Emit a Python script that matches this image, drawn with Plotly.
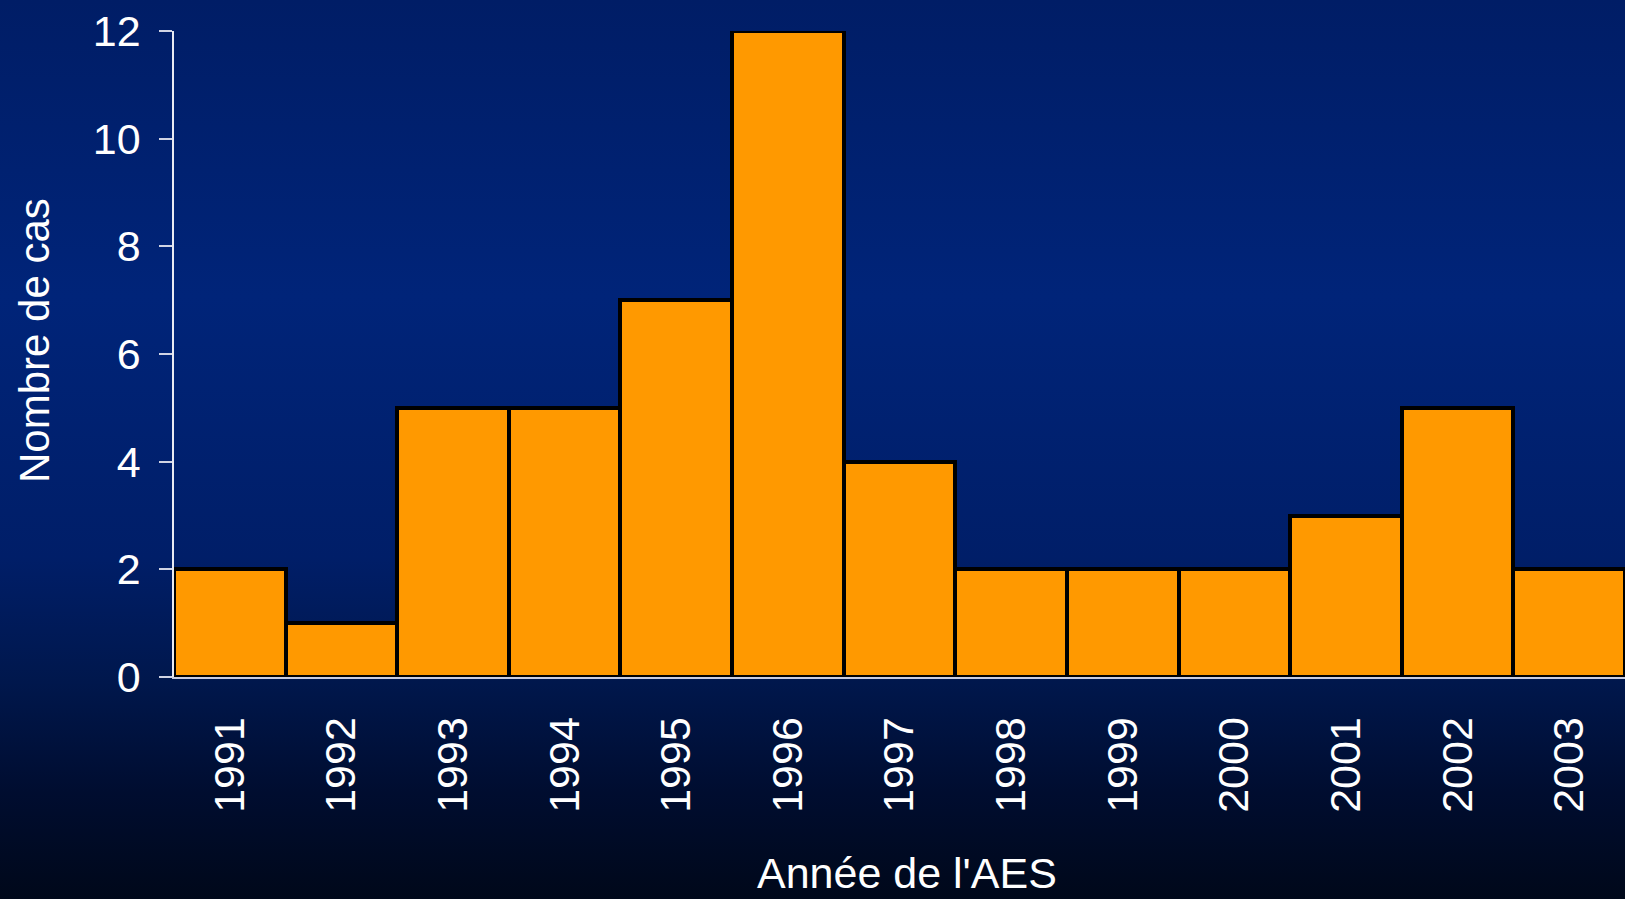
import base64
import plotly.graph_objects as go

years = ["1991", "1992", "1993", "1994", "1995", "1996", "1997",
         "1998", "1999", "2000", "2001", "2002", "2003"]
cases = [2, 1, 5, 5, 7, 12, 4, 2, 2, 2, 3, 5, 2]
y_ticks = [0, 2, 4, 6, 8, 10, 12]

W, H = 1625, 899
L, R, T, B = 174, 0, 31, 222
pw, ph = W - L - R, H - T - B

svg = (
    '<svg xmlns="http://www.w3.org/2000/svg" width="100" height="100" '
    'preserveAspectRatio="none" viewBox="0 0 100 100">'
    '<defs><linearGradient id="g" x1="0" y1="0" x2="0" y2="1">'
    '<stop offset="0" stop-color="#001d66"/>'
    '<stop offset="0.33" stop-color="#002479"/>'
    '<stop offset="0.62" stop-color="#001e68"/>'
    '<stop offset="0.76" stop-color="#00174c"/>'
    '<stop offset="0.88" stop-color="#000d30"/>'
    '<stop offset="1" stop-color="#00081a"/>'
    '</linearGradient></defs>'
    '<rect x="0" y="0" width="100" height="100" fill="url(#g)"/></svg>'
)
src = "data:image/svg+xml;base64," + base64.b64encode(svg.encode()).decode()

font = "Liberation Sans, Arial, sans-serif"
FS = 43

fig = go.Figure(go.Bar(
    x=years, y=cases,
    marker=dict(color="#ff9900", line=dict(color="#000000", width=4)),
))

fig.update_layout(
    width=W, height=H,
    margin=dict(l=L, r=R, t=T, b=B, autoexpand=False),
    paper_bgcolor="#001a5c",
    plot_bgcolor="rgba(0,0,0,0)",
    bargap=0,
    showlegend=False,
    font=dict(family=font, color="white", size=FS),
    images=[dict(
        source=src, xref="paper", yref="paper",
        x=-L / pw, y=1 + T / ph, sizex=W / pw, sizey=H / ph,
        xanchor="left", yanchor="top", sizing="stretch", layer="below",
    )],
    annotations=[
        dict(text="Année de l'AES", xref="paper", yref="paper",
             x=(907 - L) / pw, y=(677 - 873) / ph,
             xanchor="center", yanchor="middle", showarrow=False,
             font=dict(size=43, color="white", family=font)),
        dict(text="Nombre de cas", xref="paper", yref="paper",
             x=(34 - L) / pw, y=(677 - 341) / ph, textangle=-90,
             xanchor="center", yanchor="middle", showarrow=False,
             font=dict(size=42, color="white", family=font)),
    ],
)

fig.update_xaxes(
    type="category", range=[-0.5, len(years) - 0.5],
    showgrid=False, zeroline=False,
    showline=True, linecolor="#c8cce0", linewidth=2,
    ticks="", tickangle=-90, ticklabelstandoff=21,
    tickfont=dict(size=FS, color="white", family=font),
    automargin=False,
)
fig.update_yaxes(
    range=[0, 12], tickvals=y_ticks,
    showgrid=False, zeroline=False,
    showline=True, linecolor="#e8eaf2", linewidth=1.5,
    ticks="outside", ticklen=13, tickwidth=1.5, tickcolor="#d0d4e4",
    ticklabelstandoff=10,
    tickfont=dict(size=FS, color="white", family=font),
    automargin=False,
)

fig.write_html("out.html", config={"displayModeBar": False},
               post_script="document.body.style.margin='0';document.body.style.padding='0';")
